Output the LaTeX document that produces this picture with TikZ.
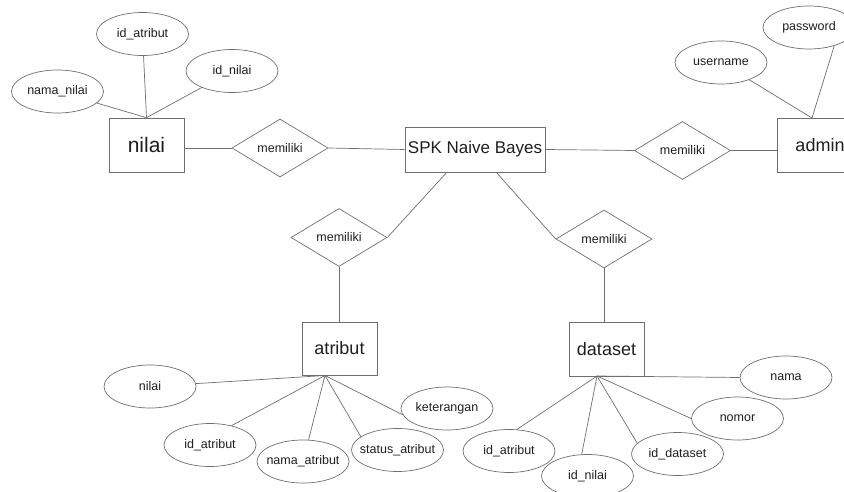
\documentclass[tikz,border=0pt]{standalone}
\usepackage{fontspec}
\setmainfont{Liberation Sans}
\usepackage{xcolor}
\usepackage{tikz}
\usetikzlibrary{shapes.geometric}

\definecolor{lineGray}{HTML}{6E6E6E}
\definecolor{textGray}{HTML}{1E1E1E}

\tikzset{
	entity/.style={draw=lineGray, line width=0.7pt, rectangle, minimum width=75pt, minimum height=54pt, inner sep=0pt, text=textGray, font=\fontsize{18pt}{20pt}\selectfont},
	relation/.style={draw=lineGray, line width=0.7pt, diamond, minimum width=96pt, minimum height=58pt, inner sep=0pt, text=textGray, font=\fontsize{12.5pt}{14pt}\selectfont},
	attr/.style={draw=lineGray, line width=0.7pt, ellipse, minimum width=92pt, minimum height=43pt, inner xsep=-15pt, inner ysep=0pt, text=textGray, font=\fontsize{12.5pt}{14pt}\selectfont},
	link/.style={draw=lineGray, line width=0.7pt}
}

\begin{document}
\begin{tikzpicture}[x=1pt, y=-1pt]
		\useasboundingbox (0, 0) rectangle (844, 492);
		\clip (0, 0) rectangle (844, 492);

		\node (spk) at (475, 149.5) [entity, minimum width=140pt, minimum height=45pt, font=\fontsize{17pt}{19pt}\selectfont] {SPK Naive Bayes};
		\node (nilai) at (146.5, 145) [entity, font=\fontsize{21pt}{23pt}\selectfont] {nilai};
		\node (admin) at (820, 145) [entity, minimum width=86pt] {admin};
		\node (atribut) at (339.5, 348.5) [entity, minimum height=53pt] {atribut};
		\node (dataset) at (606.5, 349) [entity] {dataset};

		\foreach \name/\x/\y in {relNilai/280/148, relAtribut/339/237.5, relDataset/604/239, relAdmin/682.5/150.5}
		\node (\name) at (\x, \y) [relation] {memiliki};

		\draw [link] (relNilai.west -| nilai.east) -- (relNilai.west);
		\draw [link] (relNilai.east) -- (spk.west);
		\draw [link] (spk.east) -- (relAdmin.west);
		\draw [link] (relAdmin.east) -- (relAdmin.east -| admin.west);
		\draw [link] (spk.219) -- (relAtribut.east);
		\draw [link] (spk.313) -- (relDataset.west);
		\draw [link] (relAtribut.south) -- (relAtribut.south |- atribut.north);
		\draw [link] (relDataset.south) -- (relDataset.south |- dataset.north);

		\foreach \name/\x/\y/\txt in {nilaiIdAtribut/142.5/34/id\_atribut, nilaiIdNilai/232/71/id\_nilai, nilaiNama/57.5/91.5/nama\_nilai, adminUser/721/62.5/username, adminPass/809/27.5/password}
		\node (\name) at (\x, \y) [attr] {\txt};

		\foreach \name/\x/\y/\txt in {atributNilai/150/386.5/nilai, atributId/210/445/id\_atribut, atributNama/303/461.5/nama\_atribut, atributStatus/397.5/450/status\_atribut, atributKet/447/408.5/keterangan}
		\node (\name) at (\x, \y) [attr] {\txt};

		\foreach \name/\x/\y/\txt in {datasetIdAtribut/509/451/id\_atribut, datasetIdNilai/587.5/476/id\_nilai, datasetId/677.5/454/id\_dataset, datasetNomor/737.5/418.5/nomor, datasetNama/786/377.5/nama}
		\node (\name) at (\x, \y) [attr] {\txt};

		\coordinate (adminTop) at (812, 118);
		\coordinate (atributFoot) at (325, 375.5);
		\coordinate (datasetFoot) at (597, 376);

		\foreach \a in {nilaiNama, nilaiIdAtribut, nilaiIdNilai}
		\draw [link] (\a) -- (nilai.north);
		\draw [link] (adminUser) -- (adminTop);
		\draw [link] (adminPass.-36) -- (adminTop);

		\foreach \a in {atributNilai, atributId.42, atributNama, atributStatus.160, atributKet.188}
		\draw [link] (\a) -- (atributFoot);

		\foreach \a in {datasetIdAtribut.70, datasetIdNilai.105, datasetId.165, datasetNomor.west, datasetNama.west}
		\draw [link] (\a) -- (datasetFoot);
	\end{tikzpicture}
\end{document}
